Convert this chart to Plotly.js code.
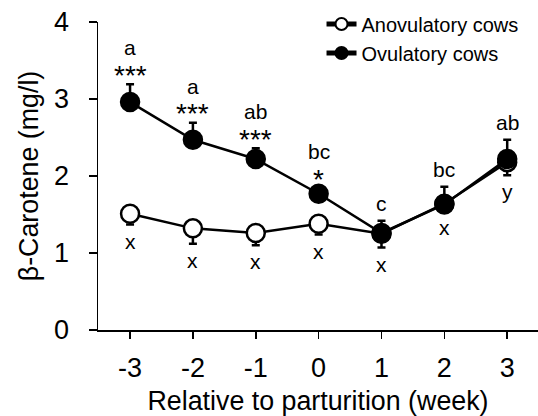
<!DOCTYPE html>
<html>
<head>
<meta charset="utf-8">
<script src="https://cdn.plot.ly/plotly-3.0.1.min.js"></script>
<style>html,body{margin:0;padding:0;background:#fff;}#chart{width:538px;height:416px;}</style>
</head>
<body>
<div id="chart"></div>
<script>
const weeks = [-3, -2, -1, 0, 1, 2, 3];
const anovulatory = [1.51, 1.32, 1.26, 1.38, 1.25, 1.64, 2.18];
const anovulatoryErr = [0.14, 0.20, 0.16, 0.14, 0.18, 0.10, 0.17];
const ovulatory = [2.96, 2.47, 2.22, 1.77, 1.26, 1.63, 2.22];
const ovulatoryErr = [0.23, 0.22, 0.14, 0.07, 0.16, 0.23, 0.25];
const topLetters = ['a', 'a', 'ab', 'bc', 'c', 'bc', 'ab'];
const topStars = ['***', '***', '***', '*', '', '', ''];
const bottomLetters = ['x', 'x', 'x', 'x', 'x', 'x', 'y'];

const font = 'Liberation Sans, Arial, sans-serif';
const zeros = weeks.map(() => 0);

const traces = [
  {
    x: weeks, y: anovulatory, name: 'Anovulatory cows', type: 'scatter', mode: 'lines+markers',
    line: {color: '#000', width: 2.5},
    marker: {size: 18, color: '#fff', line: {color: '#000', width: 2.5}},
    error_y: {type: 'data', symmetric: false, array: zeros, arrayminus: anovulatoryErr, color: '#000', thickness: 2.5, width: 4},
    cliponaxis: false
  },
  {
    x: weeks, y: ovulatory, name: 'Ovulatory cows', type: 'scatter', mode: 'lines+markers',
    line: {color: '#000', width: 2.5},
    marker: {size: 18, color: '#000', line: {color: '#000', width: 2.5}},
    error_y: {type: 'data', symmetric: false, array: ovulatoryErr, arrayminus: zeros, color: '#000', thickness: 2.5, width: 4},
    cliponaxis: false
  }
];

const letterFont = {family: font, size: 21, color: '#000'};
const starFont = {family: font, size: 28, color: '#000'};
const annotations = [];
weeks.forEach((w, i) => {
  const cap = ovulatory[i] + ovulatoryErr[i];
  if (topStars[i]) {
    annotations.push({x: w, y: cap, xref: 'x', yref: 'y', text: topStars[i], showarrow: false, yshift: 9, yanchor: 'middle', font: starFont});
    annotations.push({x: w, y: cap, xref: 'x', yref: 'y', text: topLetters[i], showarrow: false, yshift: 23, yanchor: 'bottom', font: letterFont});
  } else {
    annotations.push({x: w, y: cap, xref: 'x', yref: 'y', text: topLetters[i], showarrow: false, yshift: 4, yanchor: 'bottom', font: letterFont});
  }
  const low = anovulatory[i] - anovulatoryErr[i];
  annotations.push({x: w, y: low, xref: 'x', yref: 'y', text: bottomLetters[i], showarrow: false, yshift: -3, yanchor: 'top', font: letterFont});
});

const layout = {
  width: 538, height: 416,
  margin: {l: 98, r: 0, t: 22, b: 86},
  paper_bgcolor: '#fff', plot_bgcolor: '#fff',
  font: {family: font, color: '#000'},
  showlegend: true,
  legend: {x: 0.508, y: 1.057, xanchor: 'left', yanchor: 'top', bgcolor: 'rgba(0,0,0,0)', font: {family: font, size: 20, color: '#000'}, tracegroupgap: 0, itemsizing: 'constant'},
  xaxis: {
    range: [-3.51, 3.49], tickmode: 'array', tickvals: weeks, ticktext: weeks.map(String),
    showgrid: false, zeroline: false, showline: true, linecolor: '#000', linewidth: 1.5,
    ticks: 'outside', ticklen: 7, tickwidth: 1.5, tickcolor: '#000',
    tickfont: {family: font, size: 27, color: '#000'}, ticklabelstandoff: 6,
    title: {text: 'Relative to parturition (week)', font: {family: font, size: 26.8, color: '#000'}, standoff: 14}
  },
  yaxis: {
    range: [0, 4], tickmode: 'linear', tick0: 0, dtick: 1,
    showgrid: false, zeroline: false, showline: true, linecolor: '#000', linewidth: 1.5,
    ticks: 'outside', ticklen: 8, tickwidth: 1.5, tickcolor: '#000',
    tickfont: {family: font, size: 27, color: '#000'}, ticklabelstandoff: 14,
    title: {text: 'β-Carotene (mg/l)', font: {family: font, size: 26.8, color: '#000'}, standoff: 7}
  },
  annotations: annotations
};

Plotly.newPlot('chart', traces, layout, {displayModeBar: false, staticPlot: true});
</script>
</body>
</html>
